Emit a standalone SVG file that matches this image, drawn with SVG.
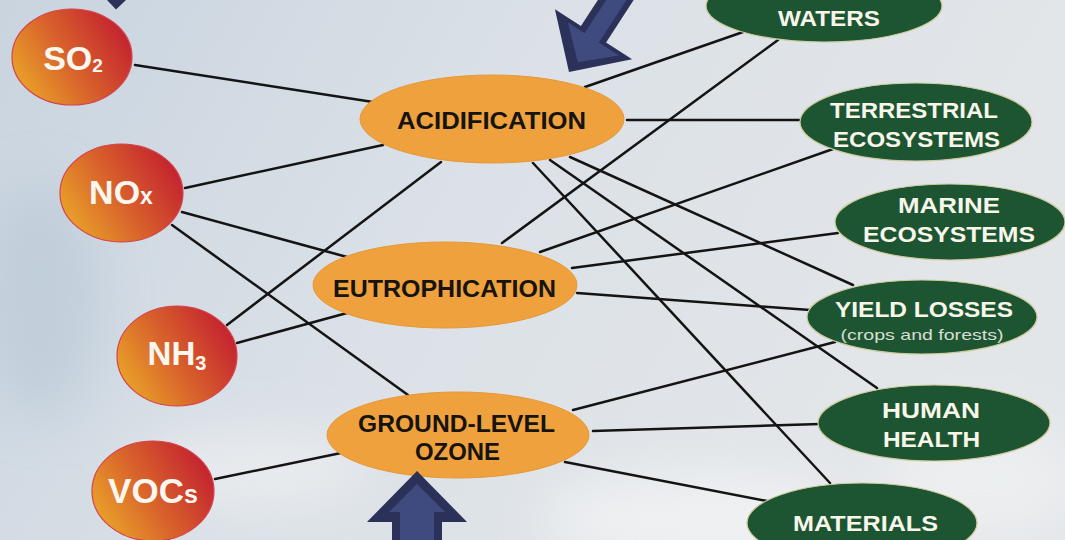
<svg xmlns="http://www.w3.org/2000/svg" width="1065" height="540" viewBox="0 0 1065 540">
<defs>
<linearGradient id="bg" x1="0" y1="0" x2="1" y2="0.3">
<stop offset="0" stop-color="#c9d4df"/>
<stop offset="0.5" stop-color="#dbe1e7"/>
<stop offset="1" stop-color="#e3e6e9"/>
</linearGradient>
<linearGradient id="pol" x1="0" y1="0.75" x2="1" y2="0.25">
<stop offset="0" stop-color="#eaa629"/>
<stop offset="0.45" stop-color="#d9642b"/>
<stop offset="1" stop-color="#c21d30"/>
</linearGradient>
<filter id="blur" x="-50%" y="-50%" width="200%" height="200%">
<feGaussianBlur stdDeviation="25"/>
</filter>
<style>
.ln{stroke:#141414;stroke-width:2.5;fill:none;stroke-linecap:round}
.pol{fill:url(#pol);stroke:#d4424c;stroke-width:1.2}
.ora{fill:#efa13d;stroke:#e6983a;stroke-width:1}
.grn{fill:#1d5532;stroke:#cfcb9c;stroke-width:1.2}
.pt{font-family:"Liberation Sans",Arial,sans-serif;font-weight:bold;fill:#fbf7f0;text-anchor:middle}
.ot{font-family:"Liberation Sans",Arial,sans-serif;font-weight:bold;fill:#161310;text-anchor:middle;font-size:23px}
.gt{font-family:"Liberation Sans",Arial,sans-serif;font-weight:bold;fill:#f8f6ea;text-anchor:middle;font-size:22px}
.st{font-family:"Liberation Sans",Arial,sans-serif;fill:#d9ddd2;text-anchor:middle;font-size:15px}
.ad{fill:#2b3158}
.al{fill:#3f4a7e}
</style>
</defs>
<rect width="1065" height="540" fill="url(#bg)"/>
<g filter="url(#blur)" opacity="0.7">
<ellipse cx="700" cy="520" rx="160" ry="50" fill="#f4f5f6"/>
<ellipse cx="250" cy="470" rx="120" ry="40" fill="#eef0f2"/>
<ellipse cx="980" cy="480" rx="100" ry="60" fill="#f0f2f3"/>
<ellipse cx="40" cy="300" rx="60" ry="120" fill="#bccad8"/>
</g>

<g id="connectors">
<line class="ln" x1="135" y1="65" x2="373" y2="102"/>
<line class="ln" x1="185" y1="188" x2="383" y2="145"/>
<line class="ln" x1="182" y1="212" x2="347" y2="257"/>
<line class="ln" x1="172" y1="225" x2="408" y2="395"/>
<line class="ln" x1="227" y1="325" x2="441" y2="162"/>
<line class="ln" x1="237" y1="343" x2="347" y2="313"/>
<line class="ln" x1="215" y1="479" x2="341" y2="453"/>
<line class="ln" x1="585" y1="87" x2="743" y2="32"/>
<line class="ln" x1="627" y1="120" x2="800" y2="120"/>
<line class="ln" x1="533" y1="163" x2="830" y2="483"/>
<line class="ln" x1="550" y1="160" x2="877" y2="388"/>
<line class="ln" x1="570" y1="157" x2="853" y2="285"/>
<line class="ln" x1="502" y1="243" x2="778" y2="40"/>
<line class="ln" x1="540" y1="252" x2="833" y2="149"/>
<line class="ln" x1="572" y1="268" x2="838" y2="233"/>
<line class="ln" x1="577" y1="293" x2="810" y2="310"/>
<line class="ln" x1="573" y1="410" x2="835" y2="342"/>
<line class="ln" x1="593" y1="431" x2="820" y2="424"/>
<line class="ln" x1="565" y1="462" x2="767" y2="501"/>
</g>

<g id="so2">
<ellipse class="pol" cx="72" cy="57" rx="60" ry="48"/>
<text class="pt" x="73" y="70" font-size="34">SO<tspan font-size="19" dy="2">2</tspan></text>
</g>
<g id="nox">
<ellipse class="pol" cx="121.5" cy="193" rx="61.5" ry="49"/>
<text class="pt" x="121" y="204" font-size="34">NO<tspan font-size="23">x</tspan></text>
</g>
<g id="nh3">
<ellipse class="pol" cx="177" cy="356" rx="60" ry="50"/>
<text class="pt" x="177" y="365" font-size="33">NH<tspan font-size="20" dy="5">3</tspan></text>
</g>
<g id="vocs">
<ellipse class="pol" cx="153" cy="491" rx="61" ry="50"/>
<text class="pt" x="153" y="503" font-size="35">VOC<tspan font-size="25">s</tspan></text>
</g>

<g id="acidification">
<ellipse class="ora" cx="492" cy="119" rx="132" ry="44"/>
<text class="ot" x="491.5" y="129" textLength="189" lengthAdjust="spacingAndGlyphs">ACIDIFICATION</text>
</g>
<g id="eutrophication">
<ellipse class="ora" cx="445" cy="285" rx="132" ry="43"/>
<text class="ot" x="444.5" y="297" textLength="223" lengthAdjust="spacingAndGlyphs">EUTROPHICATION</text>
</g>
<g id="ozone">
<ellipse class="ora" cx="458" cy="435" rx="131" ry="43"/>
<text class="ot" x="456.5" y="432" font-size="22" textLength="197" lengthAdjust="spacingAndGlyphs">GROUND-LEVEL</text>
<text class="ot" x="457.5" y="460" font-size="22" textLength="85" lengthAdjust="spacingAndGlyphs">OZONE</text>
</g>

<g id="waters">
<ellipse class="grn" cx="824" cy="6" rx="118" ry="36"/>
<text class="gt" x="829" y="26" textLength="102" lengthAdjust="spacingAndGlyphs">WATERS</text>
</g>
<g id="terrestrial">
<ellipse class="grn" cx="916" cy="122" rx="116" ry="39"/>
<text class="gt" x="914" y="118" textLength="168" lengthAdjust="spacingAndGlyphs">TERRESTRIAL</text>
<text class="gt" x="916.5" y="147" textLength="167" lengthAdjust="spacingAndGlyphs">ECOSYSTEMS</text>
</g>
<g id="marine">
<ellipse class="grn" cx="950" cy="222" rx="115" ry="38"/>
<text class="gt" x="949" y="213" textLength="102" lengthAdjust="spacingAndGlyphs">MARINE</text>
<text class="gt" x="949" y="242" textLength="172" lengthAdjust="spacingAndGlyphs">ECOSYSTEMS</text>
</g>
<g id="yield">
<ellipse class="grn" cx="922" cy="317" rx="115" ry="37"/>
<text class="gt" x="924" y="317" font-size="21" textLength="178" lengthAdjust="spacingAndGlyphs">YIELD LOSSES</text>
<text class="st" x="922" y="340" textLength="163" lengthAdjust="spacingAndGlyphs">(crops and forests)</text>
</g>
<g id="health">
<ellipse class="grn" cx="934" cy="423" rx="116" ry="38"/>
<text class="gt" x="931" y="418" textLength="98" lengthAdjust="spacingAndGlyphs">HUMAN</text>
<text class="gt" x="931.5" y="447" textLength="97" lengthAdjust="spacingAndGlyphs">HEALTH</text>
</g>
<g id="materials">
<ellipse class="grn" cx="862" cy="523" rx="115" ry="40"/>
<text class="gt" x="865.5" y="531" textLength="145" lengthAdjust="spacingAndGlyphs">MATERIALS</text>
</g>

<g id="arrows">
<polygon class="ad" points="107,0 116,9.5 126,0"/>
<g transform="translate(569,72) rotate(33)">
<path class="ad" d="M0,0 L46,-45 L15,-45 L15,-130 L-15,-130 L-15,-45 L-46,-45 Z"/>
<path class="al" d="M2,-13 L33,-41 L9,-41 L9,-130 L-8,-130 L-8,-41 L-28,-41 Z"/>
</g>
<path class="ad" d="M417,471 L467,522 L442,522 L442,545 L392,545 L392,522 L367,522 Z"/>
<path class="al" d="M417,484 L445,512 L434,512 L434,545 L400,545 L400,512 L389,512 Z"/>
</g>
</svg>
